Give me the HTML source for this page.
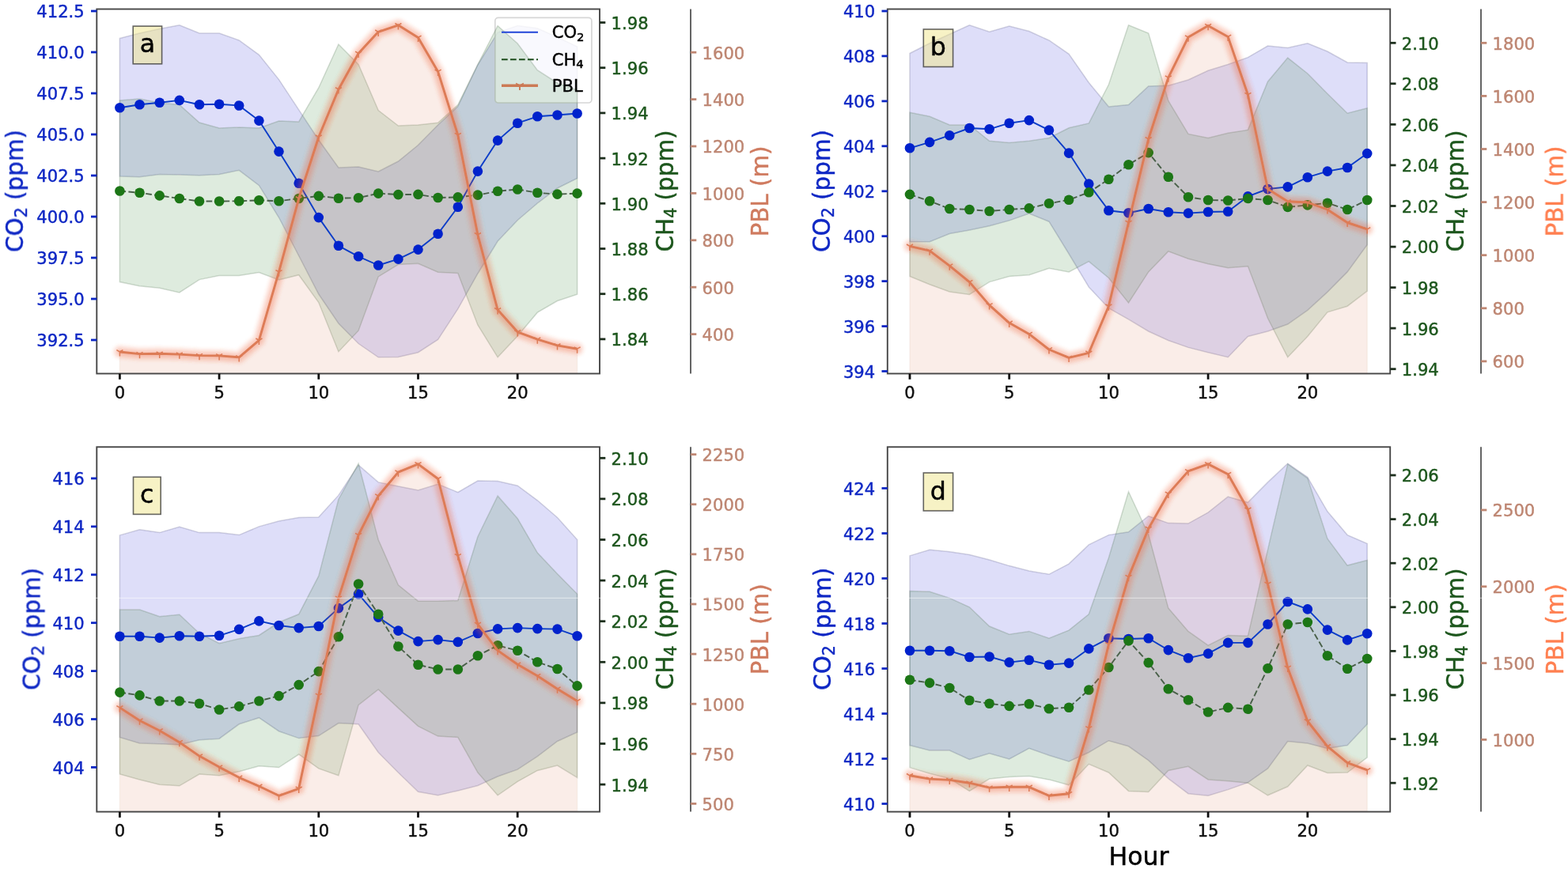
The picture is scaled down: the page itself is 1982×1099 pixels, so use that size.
<!DOCTYPE html>
<html lang="en"><head><meta charset="utf-8"><title>Diurnal CO2, CH4 and PBL</title>
<style>html,body{margin:0;padding:0;background:#fff;overflow:hidden;}svg{display:block;}text{font-family:"DejaVu Sans", "Liberation Sans", sans-serif;}</style></head><body>
<svg width="1982" height="1099" viewBox="0 0 1982 1099">
<defs><filter id="glow" filterUnits="userSpaceOnUse" x="0" y="0" width="1982" height="1099"><feGaussianBlur stdDeviation="1.6"/></filter><filter id="soft" x="-5%" y="-5%" width="110%" height="110%"><feGaussianBlur stdDeviation="0.6"/></filter></defs>
<rect width="1982" height="1099" fill="#fff"/>
<g filter="url(#soft)">
<g id="panel-a">
<clipPath id="clip_a"><rect x="122.3" y="11.5" width="635.7" height="461"/></clipPath>
<g clip-path="url(#clip_a)">
<polygon points="151.4,48.4 176.5,42 201.7,36.4 226.8,31.8 252,42 277.1,42 302.2,51 327.4,69.3 352.5,100.6 377.7,138.9 402.8,177 427.9,212 453.1,211 478.2,217 503.4,204 528.5,183.5 553.6,158 578.8,134.5 603.9,82 629.1,41 654.2,32.6 679.3,35.7 704.5,47 729.6,59 729.6,225.5 704.5,238 679.3,257 654.2,278.5 629.1,305 603.9,346 578.8,390.7 553.6,429.4 528.5,445.7 503.4,451.4 478.2,451.8 453.1,434.5 427.9,409 402.8,372 377.7,323.5 352.5,275 327.4,234.4 302.2,215.3 277.1,220.4 252,221.7 226.8,221 201.7,220.4 176.5,223.7 151.4,222.9" fill="#0000cd" fill-opacity="0.128" stroke="#333366" stroke-opacity="0.2" stroke-width="1.5"/>
<rect x="625.8" y="22.4" width="122.1" height="107.6" rx="4" ry="4" fill="#fff" fill-opacity="0.8" stroke="#ccc" stroke-opacity="0.8" stroke-width="1.7"/>
<polygon points="151.4,127 176.5,125 201.7,130 226.8,132.5 252,155 277.1,162 302.2,161 327.4,162 352.5,153 377.7,154 402.8,111 427.9,56 453.1,81.5 478.2,139.6 503.4,159 528.5,158 553.6,155.3 578.8,132.5 603.9,81.5 629.1,32.6 654.2,55 679.3,88.7 704.5,105 729.6,114 729.6,372.3 704.5,380.5 679.3,395.2 654.2,425 629.1,451.8 603.9,411 578.8,345.4 553.6,344.2 528.5,333.2 503.4,334.6 478.2,349.9 453.1,418.2 427.9,444.7 402.8,382.5 377.7,347.7 352.5,354 327.4,344.6 302.2,348.5 277.1,348.5 252,353.6 226.8,369.9 201.7,364.3 176.5,361.7 151.4,356.6" fill="#006400" fill-opacity="0.128" stroke="#335533" stroke-opacity="0.2" stroke-width="1.5"/>
<polygon points="151.4,445 176.5,447.6 201.7,447.3 226.8,448.1 252,449.6 277.1,449.9 302.2,451.9 327.4,430.3 352.5,343.9 377.7,251 402.8,173.2 427.9,113 453.1,67.5 478.2,40.3 503.4,31.8 528.5,47.5 553.6,90.4 578.8,170.7 603.9,296.8 629.1,391.8 654.2,419.8 679.3,429.2 704.5,436.9 729.6,441.2 729.6,477.5 151.4,477.5" fill="#dd7b56" fill-opacity="0.135" stroke="#884422" stroke-opacity="0.06" stroke-width="1.4"/>
</g>
<polyline points="151.4,136.3 176.5,132.2 201.7,129.7 226.8,126.9 252,132.2 277.1,131.7 302.2,133.5 327.4,152.6 352.5,191.6 377.7,231.8 402.8,275.1 427.9,310.8 453.1,324.3 478.2,335.5 503.4,327.6 528.5,315.6 553.6,295.7 578.8,261.7 603.9,216.6 629.1,177.6 654.2,155.7 679.3,147.3 704.5,145.5 729.6,143.5" fill="none" stroke="#0a3cc8" stroke-width="1.9" stroke-linejoin="round"/>
<g fill="#0320cc"><circle cx="151.4" cy="136.3" r="6.3"/><circle cx="176.5" cy="132.2" r="6.3"/><circle cx="201.7" cy="129.7" r="6.3"/><circle cx="226.8" cy="126.9" r="6.3"/><circle cx="252" cy="132.2" r="6.3"/><circle cx="277.1" cy="131.7" r="6.3"/><circle cx="302.2" cy="133.5" r="6.3"/><circle cx="327.4" cy="152.6" r="6.3"/><circle cx="352.5" cy="191.6" r="6.3"/><circle cx="377.7" cy="231.8" r="6.3"/><circle cx="402.8" cy="275.1" r="6.3"/><circle cx="427.9" cy="310.8" r="6.3"/><circle cx="453.1" cy="324.3" r="6.3"/><circle cx="478.2" cy="335.5" r="6.3"/><circle cx="503.4" cy="327.6" r="6.3"/><circle cx="528.5" cy="315.6" r="6.3"/><circle cx="553.6" cy="295.7" r="6.3"/><circle cx="578.8" cy="261.7" r="6.3"/><circle cx="603.9" cy="216.6" r="6.3"/><circle cx="629.1" cy="177.6" r="6.3"/><circle cx="654.2" cy="155.7" r="6.3"/><circle cx="679.3" cy="147.3" r="6.3"/><circle cx="704.5" cy="145.5" r="6.3"/><circle cx="729.6" cy="143.5" r="6.3"/></g>
<polyline points="151.4,241.5 176.5,243.8 201.7,247.4 226.8,251 252,254.5 277.1,254.5 302.2,254.3 327.4,253.3 352.5,254.3 377.7,251 402.8,247.9 427.9,250.7 453.1,250.2 478.2,244.6 503.4,246.1 528.5,245.9 553.6,250 578.8,249.4 603.9,246.6 629.1,241.8 654.2,239.5 679.3,243.8 704.5,245.6 729.6,244.6" fill="none" stroke="#4a614a" stroke-width="1.9" stroke-dasharray="7.7 3.3"/>
<g fill="#1c7614"><circle cx="151.4" cy="241.5" r="6.3"/><circle cx="176.5" cy="243.8" r="6.3"/><circle cx="201.7" cy="247.4" r="6.3"/><circle cx="226.8" cy="251" r="6.3"/><circle cx="252" cy="254.5" r="6.3"/><circle cx="277.1" cy="254.5" r="6.3"/><circle cx="302.2" cy="254.3" r="6.3"/><circle cx="327.4" cy="253.3" r="6.3"/><circle cx="352.5" cy="254.3" r="6.3"/><circle cx="377.7" cy="251" r="6.3"/><circle cx="402.8" cy="247.9" r="6.3"/><circle cx="427.9" cy="250.7" r="6.3"/><circle cx="453.1" cy="250.2" r="6.3"/><circle cx="478.2" cy="244.6" r="6.3"/><circle cx="503.4" cy="246.1" r="6.3"/><circle cx="528.5" cy="245.9" r="6.3"/><circle cx="553.6" cy="250" r="6.3"/><circle cx="578.8" cy="249.4" r="6.3"/><circle cx="603.9" cy="246.6" r="6.3"/><circle cx="629.1" cy="241.8" r="6.3"/><circle cx="654.2" cy="239.5" r="6.3"/><circle cx="679.3" cy="243.8" r="6.3"/><circle cx="704.5" cy="245.6" r="6.3"/><circle cx="729.6" cy="244.6" r="6.3"/></g>
<g fill="none" stroke="#f4683c" stroke-linejoin="round" stroke-linecap="round" filter="url(#glow)"><polyline points="151.4,445 176.5,447.6 201.7,447.3 226.8,448.1 252,449.6 277.1,449.9 302.2,451.9 327.4,430.3 352.5,343.9 377.7,251 402.8,173.2 427.9,113 453.1,67.5 478.2,40.3 503.4,31.8 528.5,47.5 553.6,90.4 578.8,170.7 603.9,296.8 629.1,391.8 654.2,419.8 679.3,429.2 704.5,436.9 729.6,441.2" stroke-width="5" stroke-opacity="0.1"/><polyline points="151.4,445 176.5,447.6 201.7,447.3 226.8,448.1 252,449.6 277.1,449.9 302.2,451.9 327.4,430.3 352.5,343.9 377.7,251 402.8,173.2 427.9,113 453.1,67.5 478.2,40.3 503.4,31.8 528.5,47.5 553.6,90.4 578.8,170.7 603.9,296.8 629.1,391.8 654.2,419.8 679.3,429.2 704.5,436.9 729.6,441.2" stroke-width="8" stroke-opacity="0.09"/><polyline points="151.4,445 176.5,447.6 201.7,447.3 226.8,448.1 252,449.6 277.1,449.9 302.2,451.9 327.4,430.3 352.5,343.9 377.7,251 402.8,173.2 427.9,113 453.1,67.5 478.2,40.3 503.4,31.8 528.5,47.5 553.6,90.4 578.8,170.7 603.9,296.8 629.1,391.8 654.2,419.8 679.3,429.2 704.5,436.9 729.6,441.2" stroke-width="11" stroke-opacity="0.08"/><polyline points="151.4,445 176.5,447.6 201.7,447.3 226.8,448.1 252,449.6 277.1,449.9 302.2,451.9 327.4,430.3 352.5,343.9 377.7,251 402.8,173.2 427.9,113 453.1,67.5 478.2,40.3 503.4,31.8 528.5,47.5 553.6,90.4 578.8,170.7 603.9,296.8 629.1,391.8 654.2,419.8 679.3,429.2 704.5,436.9 729.6,441.2" stroke-width="14" stroke-opacity="0.07"/><polyline points="151.4,445 176.5,447.6 201.7,447.3 226.8,448.1 252,449.6 277.1,449.9 302.2,451.9 327.4,430.3 352.5,343.9 377.7,251 402.8,173.2 427.9,113 453.1,67.5 478.2,40.3 503.4,31.8 528.5,47.5 553.6,90.4 578.8,170.7 603.9,296.8 629.1,391.8 654.2,419.8 679.3,429.2 704.5,436.9 729.6,441.2" stroke-width="17" stroke-opacity="0.06"/><polyline points="151.4,445 176.5,447.6 201.7,447.3 226.8,448.1 252,449.6 277.1,449.9 302.2,451.9 327.4,430.3 352.5,343.9 377.7,251 402.8,173.2 427.9,113 453.1,67.5 478.2,40.3 503.4,31.8 528.5,47.5 553.6,90.4 578.8,170.7 603.9,296.8 629.1,391.8 654.2,419.8 679.3,429.2 704.5,436.9 729.6,441.2" stroke-width="20" stroke-opacity="0.05"/></g>
<polyline points="151.4,445 176.5,447.6 201.7,447.3 226.8,448.1 252,449.6 277.1,449.9 302.2,451.9 327.4,430.3 352.5,343.9 377.7,251 402.8,173.2 427.9,113 453.1,67.5 478.2,40.3 503.4,31.8 528.5,47.5 553.6,90.4 578.8,170.7 603.9,296.8 629.1,391.8 654.2,419.8 679.3,429.2 704.5,436.9 729.6,441.2" fill="none" stroke="#dd7b56" stroke-width="2.9" stroke-linejoin="round"/>
<path d="M151.4 445v5.6M151.4 445l-4 -2.3M151.4 445l4 -2.3M176.5 447.6v5.6M176.5 447.6l-4 -2.3M176.5 447.6l4 -2.3M201.7 447.3v5.6M201.7 447.3l-4 -2.3M201.7 447.3l4 -2.3M226.8 448.1v5.6M226.8 448.1l-4 -2.3M226.8 448.1l4 -2.3M252 449.6v5.6M252 449.6l-4 -2.3M252 449.6l4 -2.3M277.1 449.9v5.6M277.1 449.9l-4 -2.3M277.1 449.9l4 -2.3M302.2 451.9v5.6M302.2 451.9l-4 -2.3M302.2 451.9l4 -2.3M327.4 430.3v5.6M327.4 430.3l-4 -2.3M327.4 430.3l4 -2.3M352.5 343.9v5.6M352.5 343.9l-4 -2.3M352.5 343.9l4 -2.3M377.7 251v5.6M377.7 251l-4 -2.3M377.7 251l4 -2.3M402.8 173.2v5.6M402.8 173.2l-4 -2.3M402.8 173.2l4 -2.3M427.9 113v5.6M427.9 113l-4 -2.3M427.9 113l4 -2.3M453.1 67.5v5.6M453.1 67.5l-4 -2.3M453.1 67.5l4 -2.3M478.2 40.3v5.6M478.2 40.3l-4 -2.3M478.2 40.3l4 -2.3M503.4 31.8v5.6M503.4 31.8l-4 -2.3M503.4 31.8l4 -2.3M528.5 47.5v5.6M528.5 47.5l-4 -2.3M528.5 47.5l4 -2.3M553.6 90.4v5.6M553.6 90.4l-4 -2.3M553.6 90.4l4 -2.3M578.8 170.7v5.6M578.8 170.7l-4 -2.3M578.8 170.7l4 -2.3M603.9 296.8v5.6M603.9 296.8l-4 -2.3M603.9 296.8l4 -2.3M629.1 391.8v5.6M629.1 391.8l-4 -2.3M629.1 391.8l4 -2.3M654.2 419.8v5.6M654.2 419.8l-4 -2.3M654.2 419.8l4 -2.3M679.3 429.2v5.6M679.3 429.2l-4 -2.3M679.3 429.2l4 -2.3M704.5 436.9v5.6M704.5 436.9l-4 -2.3M704.5 436.9l4 -2.3M729.6 441.2v5.6M729.6 441.2l-4 -2.3M729.6 441.2l4 -2.3" fill="none" stroke="#dd7b56" stroke-width="1.5"/>
<rect x="122.3" y="11.5" width="635.7" height="461" fill="none" stroke="#464646" stroke-width="1.9"/>
<line x1="873" y1="11.5" x2="873" y2="472.5" stroke="#5c5c5c" stroke-width="1.9"/>
<line x1="151.4" y1="472.5" x2="151.4" y2="479.8" stroke="#111" stroke-width="2.8"/><text x="151.4" y="504.1" text-anchor="middle" font-size="21.1" fill="#111" stroke="#111" stroke-width="0.45" stroke-linejoin="round">0</text><line x1="277.1" y1="472.5" x2="277.1" y2="479.8" stroke="#111" stroke-width="2.8"/><text x="277.1" y="504.1" text-anchor="middle" font-size="21.1" fill="#111" stroke="#111" stroke-width="0.45" stroke-linejoin="round">5</text><line x1="402.8" y1="472.5" x2="402.8" y2="479.8" stroke="#111" stroke-width="2.8"/><text x="402.8" y="504.1" text-anchor="middle" font-size="21.1" fill="#111" stroke="#111" stroke-width="0.45" stroke-linejoin="round">10</text><line x1="528.5" y1="472.5" x2="528.5" y2="479.8" stroke="#111" stroke-width="2.8"/><text x="528.5" y="504.1" text-anchor="middle" font-size="21.1" fill="#111" stroke="#111" stroke-width="0.45" stroke-linejoin="round">15</text><line x1="654.2" y1="472.5" x2="654.2" y2="479.8" stroke="#111" stroke-width="2.8"/><text x="654.2" y="504.1" text-anchor="middle" font-size="21.1" fill="#111" stroke="#111" stroke-width="0.45" stroke-linejoin="round">20</text>
<line x1="115" y1="14" x2="122.3" y2="14" stroke="#1028c4" stroke-width="2.8"/><text x="106.7" y="22.4" text-anchor="end" font-size="21.1" fill="#1028c4" stroke="#1028c4" stroke-width="0.45" stroke-linejoin="round">412.5</text><line x1="115" y1="66" x2="122.3" y2="66" stroke="#1028c4" stroke-width="2.8"/><text x="106.7" y="74.4" text-anchor="end" font-size="21.1" fill="#1028c4" stroke="#1028c4" stroke-width="0.45" stroke-linejoin="round">410.0</text><line x1="115" y1="118" x2="122.3" y2="118" stroke="#1028c4" stroke-width="2.8"/><text x="106.7" y="126.4" text-anchor="end" font-size="21.1" fill="#1028c4" stroke="#1028c4" stroke-width="0.45" stroke-linejoin="round">407.5</text><line x1="115" y1="170" x2="122.3" y2="170" stroke="#1028c4" stroke-width="2.8"/><text x="106.7" y="178.4" text-anchor="end" font-size="21.1" fill="#1028c4" stroke="#1028c4" stroke-width="0.45" stroke-linejoin="round">405.0</text><line x1="115" y1="222" x2="122.3" y2="222" stroke="#1028c4" stroke-width="2.8"/><text x="106.7" y="230.4" text-anchor="end" font-size="21.1" fill="#1028c4" stroke="#1028c4" stroke-width="0.45" stroke-linejoin="round">402.5</text><line x1="115" y1="274" x2="122.3" y2="274" stroke="#1028c4" stroke-width="2.8"/><text x="106.7" y="282.4" text-anchor="end" font-size="21.1" fill="#1028c4" stroke="#1028c4" stroke-width="0.45" stroke-linejoin="round">400.0</text><line x1="115" y1="326" x2="122.3" y2="326" stroke="#1028c4" stroke-width="2.8"/><text x="106.7" y="334.4" text-anchor="end" font-size="21.1" fill="#1028c4" stroke="#1028c4" stroke-width="0.45" stroke-linejoin="round">397.5</text><line x1="115" y1="378" x2="122.3" y2="378" stroke="#1028c4" stroke-width="2.8"/><text x="106.7" y="386.4" text-anchor="end" font-size="21.1" fill="#1028c4" stroke="#1028c4" stroke-width="0.45" stroke-linejoin="round">395.0</text><line x1="115" y1="430" x2="122.3" y2="430" stroke="#1028c4" stroke-width="2.8"/><text x="106.7" y="438.4" text-anchor="end" font-size="21.1" fill="#1028c4" stroke="#1028c4" stroke-width="0.45" stroke-linejoin="round">392.5</text>
<line x1="758" y1="28.5" x2="765.3" y2="28.5" stroke="#1f2f1f" stroke-width="2.8"/><text x="772.6" y="36.9" text-anchor="start" font-size="21.1" fill="#1c561c" stroke="#1c561c" stroke-width="0.45" stroke-linejoin="round">1.98</text><line x1="758" y1="85.7" x2="765.3" y2="85.7" stroke="#1f2f1f" stroke-width="2.8"/><text x="772.6" y="94.1" text-anchor="start" font-size="21.1" fill="#1c561c" stroke="#1c561c" stroke-width="0.45" stroke-linejoin="round">1.96</text><line x1="758" y1="142.9" x2="765.3" y2="142.9" stroke="#1f2f1f" stroke-width="2.8"/><text x="772.6" y="151.3" text-anchor="start" font-size="21.1" fill="#1c561c" stroke="#1c561c" stroke-width="0.45" stroke-linejoin="round">1.94</text><line x1="758" y1="200.1" x2="765.3" y2="200.1" stroke="#1f2f1f" stroke-width="2.8"/><text x="772.6" y="208.5" text-anchor="start" font-size="21.1" fill="#1c561c" stroke="#1c561c" stroke-width="0.45" stroke-linejoin="round">1.92</text><line x1="758" y1="257.3" x2="765.3" y2="257.3" stroke="#1f2f1f" stroke-width="2.8"/><text x="772.6" y="265.7" text-anchor="start" font-size="21.1" fill="#1c561c" stroke="#1c561c" stroke-width="0.45" stroke-linejoin="round">1.90</text><line x1="758" y1="314.5" x2="765.3" y2="314.5" stroke="#1f2f1f" stroke-width="2.8"/><text x="772.6" y="322.9" text-anchor="start" font-size="21.1" fill="#1c561c" stroke="#1c561c" stroke-width="0.45" stroke-linejoin="round">1.88</text><line x1="758" y1="371.7" x2="765.3" y2="371.7" stroke="#1f2f1f" stroke-width="2.8"/><text x="772.6" y="380.1" text-anchor="start" font-size="21.1" fill="#1c561c" stroke="#1c561c" stroke-width="0.45" stroke-linejoin="round">1.86</text><line x1="758" y1="428.9" x2="765.3" y2="428.9" stroke="#1f2f1f" stroke-width="2.8"/><text x="772.6" y="437.3" text-anchor="start" font-size="21.1" fill="#1c561c" stroke="#1c561c" stroke-width="0.45" stroke-linejoin="round">1.84</text>
<line x1="873" y1="66.2" x2="880.3" y2="66.2" stroke="#be8672" stroke-width="2.8"/><text x="887.6" y="74.6" text-anchor="start" font-size="21.1" fill="#be8672" stroke="#be8672" stroke-width="0.45" stroke-linejoin="round">1600</text><line x1="873" y1="125.6" x2="880.3" y2="125.6" stroke="#be8672" stroke-width="2.8"/><text x="887.6" y="134" text-anchor="start" font-size="21.1" fill="#be8672" stroke="#be8672" stroke-width="0.45" stroke-linejoin="round">1400</text><line x1="873" y1="185" x2="880.3" y2="185" stroke="#be8672" stroke-width="2.8"/><text x="887.6" y="193.4" text-anchor="start" font-size="21.1" fill="#be8672" stroke="#be8672" stroke-width="0.45" stroke-linejoin="round">1200</text><line x1="873" y1="244.4" x2="880.3" y2="244.4" stroke="#be8672" stroke-width="2.8"/><text x="887.6" y="252.8" text-anchor="start" font-size="21.1" fill="#be8672" stroke="#be8672" stroke-width="0.45" stroke-linejoin="round">1000</text><line x1="873" y1="303.8" x2="880.3" y2="303.8" stroke="#be8672" stroke-width="2.8"/><text x="887.6" y="312.2" text-anchor="start" font-size="21.1" fill="#be8672" stroke="#be8672" stroke-width="0.45" stroke-linejoin="round">800</text><line x1="873" y1="363.2" x2="880.3" y2="363.2" stroke="#be8672" stroke-width="2.8"/><text x="887.6" y="371.6" text-anchor="start" font-size="21.1" fill="#be8672" stroke="#be8672" stroke-width="0.45" stroke-linejoin="round">600</text><line x1="873" y1="422.6" x2="880.3" y2="422.6" stroke="#be8672" stroke-width="2.8"/><text x="887.6" y="431" text-anchor="start" font-size="21.1" fill="#be8672" stroke="#be8672" stroke-width="0.45" stroke-linejoin="round">400</text>
<text transform="translate(29,241.5) rotate(-90)" text-anchor="middle" font-size="29.4" fill="#1028c4" stroke="#1028c4" stroke-width="0.45" stroke-linejoin="round">CO<tspan font-size="20.6" dy="4.6">2</tspan><tspan dy="-4.6"> (ppm)</tspan></text>
<text transform="translate(850.8,241.5) rotate(-90)" text-anchor="middle" font-size="29.4" fill="#1c561c" stroke="#1c561c" stroke-width="0.45" stroke-linejoin="round">CH<tspan font-size="20.6" dy="4.6">4</tspan><tspan dy="-4.6"> (ppm)</tspan></text>
<text transform="translate(971,242) rotate(-90)" text-anchor="middle" font-size="29.4" fill="#cf7a5e" stroke="#cf7a5e" stroke-width="0.45" stroke-linejoin="round">PBL (m)</text>
<rect x="168.2" y="33.1" width="36.4" height="47.7" fill="#f0e68c" fill-opacity="0.5" stroke="#333" stroke-opacity="0.75" stroke-width="1.6"/>
<text x="186.4" y="66.3" text-anchor="middle" font-size="31.6" fill="#000" stroke="#000" stroke-width="0.45" stroke-linejoin="round">a</text>
<line x1="634" y1="40.8" x2="680" y2="40.8" stroke="#2044d8" stroke-width="1.9"/>
<line x1="634" y1="75.2" x2="680" y2="75.2" stroke="#1f4d1f" stroke-width="1.9" stroke-dasharray="7.7 3.3"/>
<line x1="634" y1="108.3" x2="680" y2="108.3" stroke="#cc7a55" stroke-width="3.4"/>
<path d="M657 108.3v5.6M657 108.3l-4.9 -2.8M657 108.3l4.9 -2.8" fill="none" stroke="#cc7a55" stroke-width="1.9"/>
<text x="697.7" y="48.3" font-size="21.1" fill="#000" stroke="#000" stroke-width="0.45" stroke-linejoin="round">CO<tspan font-size="14.8" dy="3.4">2</tspan></text>
<text x="697.7" y="82.7" font-size="21.1" fill="#000" stroke="#000" stroke-width="0.45" stroke-linejoin="round">CH<tspan font-size="14.8" dy="3.4">4</tspan></text>
<text x="697.7" y="115.8" font-size="21.1" fill="#000" stroke="#000" stroke-width="0.45" stroke-linejoin="round">PBL</text>
</g>
<g id="panel-b">
<clipPath id="clip_b"><rect x="1121.8" y="11.5" width="635.4" height="461"/></clipPath>
<g clip-path="url(#clip_b)">
<polygon points="1150,67.5 1175.1,54.8 1200.3,43.3 1225.4,31.8 1250.6,40.3 1275.7,33.1 1300.8,39.5 1326,51 1351.1,68.3 1376.3,104.5 1401.4,135 1426.5,132.5 1451.7,109 1476.8,108.3 1502,101 1527.1,89.2 1552.2,81.5 1577.4,72.6 1602.5,58 1627.7,60.4 1652.8,54.8 1677.9,65 1703.1,79 1728.2,79.5 1728.2,309.5 1703.1,343.9 1677.9,369.4 1652.8,392.3 1627.7,410 1602.5,419 1577.4,425.4 1552.2,451.7 1527.1,445.8 1502,439.4 1476.8,430.5 1451.7,419 1426.5,403.8 1401.4,389.7 1376.3,363 1351.1,321 1326,280.2 1300.8,270 1275.7,278.9 1250.6,285.8 1225.4,290.9 1200.3,295.5 1175.1,305.7 1150,305.7" fill="#0000cd" fill-opacity="0.128" stroke="#333366" stroke-opacity="0.2" stroke-width="1.5"/>
<polygon points="1150,142.2 1175.1,147.3 1200.3,158 1225.4,158 1250.6,178.3 1275.7,180.4 1300.8,178.3 1326,174.5 1351.1,161.8 1376.3,155.9 1401.4,107 1426.5,31.8 1451.7,42 1476.8,127.4 1502,169.4 1527.1,174.5 1552.2,168.2 1577.4,164.3 1602.5,103.2 1627.7,73.1 1652.8,93 1677.9,118.5 1703.1,143.2 1728.2,136.8 1728.2,368.1 1703.1,387.2 1677.9,394.8 1652.8,425.4 1627.7,451.7 1602.5,402.5 1577.4,336.8 1552.2,338.8 1527.1,333.7 1502,327.3 1476.8,317.9 1451.7,343.9 1426.5,382.9 1401.4,351.5 1376.3,330.6 1351.1,343.9 1326,339.3 1300.8,347.7 1275.7,349.5 1250.6,356.6 1225.4,372.4 1200.3,368.9 1175.1,359.7 1150,349.5" fill="#006400" fill-opacity="0.128" stroke="#335533" stroke-opacity="0.2" stroke-width="1.5"/>
<polygon points="1150,311.3 1175.1,317.1 1200.3,336.2 1225.4,356.6 1250.6,385.9 1275.7,408.3 1300.8,422.4 1326,442 1351.1,452.4 1376.3,446.3 1401.4,387.2 1426.5,281.5 1451.7,175.8 1476.8,98.1 1502,47.1 1527.1,32.6 1552.2,46.4 1577.4,119.7 1602.5,239 1627.7,254.8 1652.8,256 1677.9,265 1703.1,281.5 1728.2,289.9 1728.2,477.5 1150,477.5" fill="#dd7b56" fill-opacity="0.135" stroke="#884422" stroke-opacity="0.06" stroke-width="1.4"/>
</g>
<polyline points="1150,187.3 1175.1,179.9 1200.3,171.2 1225.4,162 1250.6,163.3 1275.7,155.7 1300.8,152.1 1326,164.6 1351.1,193.6 1376.3,232.6 1401.4,266.2 1426.5,269.3 1451.7,264 1476.8,268.3 1502,269.6 1527.1,268 1552.2,267.5 1577.4,248.4 1602.5,239 1627.7,236.4 1652.8,224.2 1677.9,216.6 1703.1,212 1728.2,194.1" fill="none" stroke="#0a3cc8" stroke-width="1.9" stroke-linejoin="round"/>
<g fill="#0320cc"><circle cx="1150" cy="187.3" r="6.3"/><circle cx="1175.1" cy="179.9" r="6.3"/><circle cx="1200.3" cy="171.2" r="6.3"/><circle cx="1225.4" cy="162" r="6.3"/><circle cx="1250.6" cy="163.3" r="6.3"/><circle cx="1275.7" cy="155.7" r="6.3"/><circle cx="1300.8" cy="152.1" r="6.3"/><circle cx="1326" cy="164.6" r="6.3"/><circle cx="1351.1" cy="193.6" r="6.3"/><circle cx="1376.3" cy="232.6" r="6.3"/><circle cx="1401.4" cy="266.2" r="6.3"/><circle cx="1426.5" cy="269.3" r="6.3"/><circle cx="1451.7" cy="264" r="6.3"/><circle cx="1476.8" cy="268.3" r="6.3"/><circle cx="1502" cy="269.6" r="6.3"/><circle cx="1527.1" cy="268" r="6.3"/><circle cx="1552.2" cy="267.5" r="6.3"/><circle cx="1577.4" cy="248.4" r="6.3"/><circle cx="1602.5" cy="239" r="6.3"/><circle cx="1627.7" cy="236.4" r="6.3"/><circle cx="1652.8" cy="224.2" r="6.3"/><circle cx="1677.9" cy="216.6" r="6.3"/><circle cx="1703.1" cy="212" r="6.3"/><circle cx="1728.2" cy="194.1" r="6.3"/></g>
<polyline points="1150,245.9 1175.1,254.3 1200.3,264 1225.4,265 1250.6,267 1275.7,265 1300.8,263.4 1326,257.3 1351.1,252.7 1376.3,243.3 1401.4,226.8 1426.5,208.2 1451.7,193.1 1476.8,223.7 1502,249.2 1527.1,253 1552.2,253.5 1577.4,251 1602.5,253 1627.7,261.9 1652.8,259.4 1677.9,256.8 1703.1,265 1728.2,253" fill="none" stroke="#4a614a" stroke-width="1.9" stroke-dasharray="7.7 3.3"/>
<g fill="#1c7614"><circle cx="1150" cy="245.9" r="6.3"/><circle cx="1175.1" cy="254.3" r="6.3"/><circle cx="1200.3" cy="264" r="6.3"/><circle cx="1225.4" cy="265" r="6.3"/><circle cx="1250.6" cy="267" r="6.3"/><circle cx="1275.7" cy="265" r="6.3"/><circle cx="1300.8" cy="263.4" r="6.3"/><circle cx="1326" cy="257.3" r="6.3"/><circle cx="1351.1" cy="252.7" r="6.3"/><circle cx="1376.3" cy="243.3" r="6.3"/><circle cx="1401.4" cy="226.8" r="6.3"/><circle cx="1426.5" cy="208.2" r="6.3"/><circle cx="1451.7" cy="193.1" r="6.3"/><circle cx="1476.8" cy="223.7" r="6.3"/><circle cx="1502" cy="249.2" r="6.3"/><circle cx="1527.1" cy="253" r="6.3"/><circle cx="1552.2" cy="253.5" r="6.3"/><circle cx="1577.4" cy="251" r="6.3"/><circle cx="1602.5" cy="253" r="6.3"/><circle cx="1627.7" cy="261.9" r="6.3"/><circle cx="1652.8" cy="259.4" r="6.3"/><circle cx="1677.9" cy="256.8" r="6.3"/><circle cx="1703.1" cy="265" r="6.3"/><circle cx="1728.2" cy="253" r="6.3"/></g>
<g fill="none" stroke="#f4683c" stroke-linejoin="round" stroke-linecap="round" filter="url(#glow)"><polyline points="1150,311.3 1175.1,317.1 1200.3,336.2 1225.4,356.6 1250.6,385.9 1275.7,408.3 1300.8,422.4 1326,442 1351.1,452.4 1376.3,446.3 1401.4,387.2 1426.5,281.5 1451.7,175.8 1476.8,98.1 1502,47.1 1527.1,32.6 1552.2,46.4 1577.4,119.7 1602.5,239 1627.7,254.8 1652.8,256 1677.9,265 1703.1,281.5 1728.2,289.9" stroke-width="5" stroke-opacity="0.1"/><polyline points="1150,311.3 1175.1,317.1 1200.3,336.2 1225.4,356.6 1250.6,385.9 1275.7,408.3 1300.8,422.4 1326,442 1351.1,452.4 1376.3,446.3 1401.4,387.2 1426.5,281.5 1451.7,175.8 1476.8,98.1 1502,47.1 1527.1,32.6 1552.2,46.4 1577.4,119.7 1602.5,239 1627.7,254.8 1652.8,256 1677.9,265 1703.1,281.5 1728.2,289.9" stroke-width="8" stroke-opacity="0.09"/><polyline points="1150,311.3 1175.1,317.1 1200.3,336.2 1225.4,356.6 1250.6,385.9 1275.7,408.3 1300.8,422.4 1326,442 1351.1,452.4 1376.3,446.3 1401.4,387.2 1426.5,281.5 1451.7,175.8 1476.8,98.1 1502,47.1 1527.1,32.6 1552.2,46.4 1577.4,119.7 1602.5,239 1627.7,254.8 1652.8,256 1677.9,265 1703.1,281.5 1728.2,289.9" stroke-width="11" stroke-opacity="0.08"/><polyline points="1150,311.3 1175.1,317.1 1200.3,336.2 1225.4,356.6 1250.6,385.9 1275.7,408.3 1300.8,422.4 1326,442 1351.1,452.4 1376.3,446.3 1401.4,387.2 1426.5,281.5 1451.7,175.8 1476.8,98.1 1502,47.1 1527.1,32.6 1552.2,46.4 1577.4,119.7 1602.5,239 1627.7,254.8 1652.8,256 1677.9,265 1703.1,281.5 1728.2,289.9" stroke-width="14" stroke-opacity="0.07"/><polyline points="1150,311.3 1175.1,317.1 1200.3,336.2 1225.4,356.6 1250.6,385.9 1275.7,408.3 1300.8,422.4 1326,442 1351.1,452.4 1376.3,446.3 1401.4,387.2 1426.5,281.5 1451.7,175.8 1476.8,98.1 1502,47.1 1527.1,32.6 1552.2,46.4 1577.4,119.7 1602.5,239 1627.7,254.8 1652.8,256 1677.9,265 1703.1,281.5 1728.2,289.9" stroke-width="17" stroke-opacity="0.06"/><polyline points="1150,311.3 1175.1,317.1 1200.3,336.2 1225.4,356.6 1250.6,385.9 1275.7,408.3 1300.8,422.4 1326,442 1351.1,452.4 1376.3,446.3 1401.4,387.2 1426.5,281.5 1451.7,175.8 1476.8,98.1 1502,47.1 1527.1,32.6 1552.2,46.4 1577.4,119.7 1602.5,239 1627.7,254.8 1652.8,256 1677.9,265 1703.1,281.5 1728.2,289.9" stroke-width="20" stroke-opacity="0.05"/></g>
<polyline points="1150,311.3 1175.1,317.1 1200.3,336.2 1225.4,356.6 1250.6,385.9 1275.7,408.3 1300.8,422.4 1326,442 1351.1,452.4 1376.3,446.3 1401.4,387.2 1426.5,281.5 1451.7,175.8 1476.8,98.1 1502,47.1 1527.1,32.6 1552.2,46.4 1577.4,119.7 1602.5,239 1627.7,254.8 1652.8,256 1677.9,265 1703.1,281.5 1728.2,289.9" fill="none" stroke="#dd7b56" stroke-width="2.9" stroke-linejoin="round"/>
<path d="M1150 311.3v5.6M1150 311.3l-4 -2.3M1150 311.3l4 -2.3M1175.1 317.1v5.6M1175.1 317.1l-4 -2.3M1175.1 317.1l4 -2.3M1200.3 336.2v5.6M1200.3 336.2l-4 -2.3M1200.3 336.2l4 -2.3M1225.4 356.6v5.6M1225.4 356.6l-4 -2.3M1225.4 356.6l4 -2.3M1250.6 385.9v5.6M1250.6 385.9l-4 -2.3M1250.6 385.9l4 -2.3M1275.7 408.3v5.6M1275.7 408.3l-4 -2.3M1275.7 408.3l4 -2.3M1300.8 422.4v5.6M1300.8 422.4l-4 -2.3M1300.8 422.4l4 -2.3M1326 442v5.6M1326 442l-4 -2.3M1326 442l4 -2.3M1351.1 452.4v5.6M1351.1 452.4l-4 -2.3M1351.1 452.4l4 -2.3M1376.3 446.3v5.6M1376.3 446.3l-4 -2.3M1376.3 446.3l4 -2.3M1401.4 387.2v5.6M1401.4 387.2l-4 -2.3M1401.4 387.2l4 -2.3M1426.5 281.5v5.6M1426.5 281.5l-4 -2.3M1426.5 281.5l4 -2.3M1451.7 175.8v5.6M1451.7 175.8l-4 -2.3M1451.7 175.8l4 -2.3M1476.8 98.1v5.6M1476.8 98.1l-4 -2.3M1476.8 98.1l4 -2.3M1502 47.1v5.6M1502 47.1l-4 -2.3M1502 47.1l4 -2.3M1527.1 32.6v5.6M1527.1 32.6l-4 -2.3M1527.1 32.6l4 -2.3M1552.2 46.4v5.6M1552.2 46.4l-4 -2.3M1552.2 46.4l4 -2.3M1577.4 119.7v5.6M1577.4 119.7l-4 -2.3M1577.4 119.7l4 -2.3M1602.5 239v5.6M1602.5 239l-4 -2.3M1602.5 239l4 -2.3M1627.7 254.8v5.6M1627.7 254.8l-4 -2.3M1627.7 254.8l4 -2.3M1652.8 256v5.6M1652.8 256l-4 -2.3M1652.8 256l4 -2.3M1677.9 265v5.6M1677.9 265l-4 -2.3M1677.9 265l4 -2.3M1703.1 281.5v5.6M1703.1 281.5l-4 -2.3M1703.1 281.5l4 -2.3M1728.2 289.9v5.6M1728.2 289.9l-4 -2.3M1728.2 289.9l4 -2.3" fill="none" stroke="#dd7b56" stroke-width="1.5"/>
<rect x="1121.8" y="11.5" width="635.4" height="461" fill="none" stroke="#464646" stroke-width="1.9"/>
<line x1="1872" y1="11.5" x2="1872" y2="472.5" stroke="#5c5c5c" stroke-width="1.9"/>
<line x1="1150" y1="472.5" x2="1150" y2="479.8" stroke="#111" stroke-width="2.8"/><text x="1150" y="504.1" text-anchor="middle" font-size="21.1" fill="#111" stroke="#111" stroke-width="0.45" stroke-linejoin="round">0</text><line x1="1275.7" y1="472.5" x2="1275.7" y2="479.8" stroke="#111" stroke-width="2.8"/><text x="1275.7" y="504.1" text-anchor="middle" font-size="21.1" fill="#111" stroke="#111" stroke-width="0.45" stroke-linejoin="round">5</text><line x1="1401.4" y1="472.5" x2="1401.4" y2="479.8" stroke="#111" stroke-width="2.8"/><text x="1401.4" y="504.1" text-anchor="middle" font-size="21.1" fill="#111" stroke="#111" stroke-width="0.45" stroke-linejoin="round">10</text><line x1="1527.1" y1="472.5" x2="1527.1" y2="479.8" stroke="#111" stroke-width="2.8"/><text x="1527.1" y="504.1" text-anchor="middle" font-size="21.1" fill="#111" stroke="#111" stroke-width="0.45" stroke-linejoin="round">15</text><line x1="1652.8" y1="472.5" x2="1652.8" y2="479.8" stroke="#111" stroke-width="2.8"/><text x="1652.8" y="504.1" text-anchor="middle" font-size="21.1" fill="#111" stroke="#111" stroke-width="0.45" stroke-linejoin="round">20</text>
<line x1="1114.5" y1="14" x2="1121.8" y2="14" stroke="#1028c4" stroke-width="2.8"/><text x="1106.2" y="22.4" text-anchor="end" font-size="21.1" fill="#1028c4" stroke="#1028c4" stroke-width="0.45" stroke-linejoin="round">410</text><line x1="1114.5" y1="70.9" x2="1121.8" y2="70.9" stroke="#1028c4" stroke-width="2.8"/><text x="1106.2" y="79.3" text-anchor="end" font-size="21.1" fill="#1028c4" stroke="#1028c4" stroke-width="0.45" stroke-linejoin="round">408</text><line x1="1114.5" y1="127.9" x2="1121.8" y2="127.9" stroke="#1028c4" stroke-width="2.8"/><text x="1106.2" y="136.3" text-anchor="end" font-size="21.1" fill="#1028c4" stroke="#1028c4" stroke-width="0.45" stroke-linejoin="round">406</text><line x1="1114.5" y1="184.8" x2="1121.8" y2="184.8" stroke="#1028c4" stroke-width="2.8"/><text x="1106.2" y="193.2" text-anchor="end" font-size="21.1" fill="#1028c4" stroke="#1028c4" stroke-width="0.45" stroke-linejoin="round">404</text><line x1="1114.5" y1="241.8" x2="1121.8" y2="241.8" stroke="#1028c4" stroke-width="2.8"/><text x="1106.2" y="250.2" text-anchor="end" font-size="21.1" fill="#1028c4" stroke="#1028c4" stroke-width="0.45" stroke-linejoin="round">402</text><line x1="1114.5" y1="298.7" x2="1121.8" y2="298.7" stroke="#1028c4" stroke-width="2.8"/><text x="1106.2" y="307.1" text-anchor="end" font-size="21.1" fill="#1028c4" stroke="#1028c4" stroke-width="0.45" stroke-linejoin="round">400</text><line x1="1114.5" y1="355.6" x2="1121.8" y2="355.6" stroke="#1028c4" stroke-width="2.8"/><text x="1106.2" y="364" text-anchor="end" font-size="21.1" fill="#1028c4" stroke="#1028c4" stroke-width="0.45" stroke-linejoin="round">398</text><line x1="1114.5" y1="412.6" x2="1121.8" y2="412.6" stroke="#1028c4" stroke-width="2.8"/><text x="1106.2" y="421" text-anchor="end" font-size="21.1" fill="#1028c4" stroke="#1028c4" stroke-width="0.45" stroke-linejoin="round">396</text><line x1="1114.5" y1="469.5" x2="1121.8" y2="469.5" stroke="#1028c4" stroke-width="2.8"/><text x="1106.2" y="477.9" text-anchor="end" font-size="21.1" fill="#1028c4" stroke="#1028c4" stroke-width="0.45" stroke-linejoin="round">394</text>
<line x1="1757.2" y1="54.3" x2="1764.5" y2="54.3" stroke="#1f2f1f" stroke-width="2.8"/><text x="1771.8" y="62.7" text-anchor="start" font-size="21.1" fill="#1c561c" stroke="#1c561c" stroke-width="0.45" stroke-linejoin="round">2.10</text><line x1="1757.2" y1="105.8" x2="1764.5" y2="105.8" stroke="#1f2f1f" stroke-width="2.8"/><text x="1771.8" y="114.2" text-anchor="start" font-size="21.1" fill="#1c561c" stroke="#1c561c" stroke-width="0.45" stroke-linejoin="round">2.08</text><line x1="1757.2" y1="157.4" x2="1764.5" y2="157.4" stroke="#1f2f1f" stroke-width="2.8"/><text x="1771.8" y="165.8" text-anchor="start" font-size="21.1" fill="#1c561c" stroke="#1c561c" stroke-width="0.45" stroke-linejoin="round">2.06</text><line x1="1757.2" y1="208.9" x2="1764.5" y2="208.9" stroke="#1f2f1f" stroke-width="2.8"/><text x="1771.8" y="217.3" text-anchor="start" font-size="21.1" fill="#1c561c" stroke="#1c561c" stroke-width="0.45" stroke-linejoin="round">2.04</text><line x1="1757.2" y1="260.5" x2="1764.5" y2="260.5" stroke="#1f2f1f" stroke-width="2.8"/><text x="1771.8" y="268.9" text-anchor="start" font-size="21.1" fill="#1c561c" stroke="#1c561c" stroke-width="0.45" stroke-linejoin="round">2.02</text><line x1="1757.2" y1="312.1" x2="1764.5" y2="312.1" stroke="#1f2f1f" stroke-width="2.8"/><text x="1771.8" y="320.4" text-anchor="start" font-size="21.1" fill="#1c561c" stroke="#1c561c" stroke-width="0.45" stroke-linejoin="round">2.00</text><line x1="1757.2" y1="363.6" x2="1764.5" y2="363.6" stroke="#1f2f1f" stroke-width="2.8"/><text x="1771.8" y="372" text-anchor="start" font-size="21.1" fill="#1c561c" stroke="#1c561c" stroke-width="0.45" stroke-linejoin="round">1.98</text><line x1="1757.2" y1="415.1" x2="1764.5" y2="415.1" stroke="#1f2f1f" stroke-width="2.8"/><text x="1771.8" y="423.5" text-anchor="start" font-size="21.1" fill="#1c561c" stroke="#1c561c" stroke-width="0.45" stroke-linejoin="round">1.96</text><line x1="1757.2" y1="466.7" x2="1764.5" y2="466.7" stroke="#1f2f1f" stroke-width="2.8"/><text x="1771.8" y="475.1" text-anchor="start" font-size="21.1" fill="#1c561c" stroke="#1c561c" stroke-width="0.45" stroke-linejoin="round">1.94</text>
<line x1="1872" y1="54.3" x2="1879.3" y2="54.3" stroke="#be8672" stroke-width="2.8"/><text x="1886.6" y="62.7" text-anchor="start" font-size="21.1" fill="#be8672" stroke="#be8672" stroke-width="0.45" stroke-linejoin="round">1800</text><line x1="1872" y1="121.4" x2="1879.3" y2="121.4" stroke="#be8672" stroke-width="2.8"/><text x="1886.6" y="129.8" text-anchor="start" font-size="21.1" fill="#be8672" stroke="#be8672" stroke-width="0.45" stroke-linejoin="round">1600</text><line x1="1872" y1="188.5" x2="1879.3" y2="188.5" stroke="#be8672" stroke-width="2.8"/><text x="1886.6" y="196.9" text-anchor="start" font-size="21.1" fill="#be8672" stroke="#be8672" stroke-width="0.45" stroke-linejoin="round">1400</text><line x1="1872" y1="255.6" x2="1879.3" y2="255.6" stroke="#be8672" stroke-width="2.8"/><text x="1886.6" y="264" text-anchor="start" font-size="21.1" fill="#be8672" stroke="#be8672" stroke-width="0.45" stroke-linejoin="round">1200</text><line x1="1872" y1="322.7" x2="1879.3" y2="322.7" stroke="#be8672" stroke-width="2.8"/><text x="1886.6" y="331.1" text-anchor="start" font-size="21.1" fill="#be8672" stroke="#be8672" stroke-width="0.45" stroke-linejoin="round">1000</text><line x1="1872" y1="389.8" x2="1879.3" y2="389.8" stroke="#be8672" stroke-width="2.8"/><text x="1886.6" y="398.2" text-anchor="start" font-size="21.1" fill="#be8672" stroke="#be8672" stroke-width="0.45" stroke-linejoin="round">800</text><line x1="1872" y1="456.9" x2="1879.3" y2="456.9" stroke="#be8672" stroke-width="2.8"/><text x="1886.6" y="465.3" text-anchor="start" font-size="21.1" fill="#be8672" stroke="#be8672" stroke-width="0.45" stroke-linejoin="round">600</text>
<text transform="translate(1049.1,241.5) rotate(-90)" text-anchor="middle" font-size="29.4" fill="#1028c4" stroke="#1028c4" stroke-width="0.45" stroke-linejoin="round">CO<tspan font-size="20.6" dy="4.6">2</tspan><tspan dy="-4.6"> (ppm)</tspan></text>
<text transform="translate(1850.4,241.5) rotate(-90)" text-anchor="middle" font-size="29.4" fill="#1c561c" stroke="#1c561c" stroke-width="0.45" stroke-linejoin="round">CH<tspan font-size="20.6" dy="4.6">4</tspan><tspan dy="-4.6"> (ppm)</tspan></text>
<text transform="translate(1975.6,242) rotate(-90)" text-anchor="middle" font-size="29.4" fill="#ff7f50" stroke="#ff7f50" stroke-width="0.45" stroke-linejoin="round">PBL (m)</text>
<rect x="1167.3" y="37" width="37.3" height="47.5" fill="#f0e68c" fill-opacity="0.5" stroke="#333" stroke-opacity="0.75" stroke-width="1.6"/>
<text x="1185.9" y="70" text-anchor="middle" font-size="31.6" fill="#000" stroke="#000" stroke-width="0.45" stroke-linejoin="round">b</text>
</g>
<g id="panel-c">
<clipPath id="clip_c"><rect x="122.3" y="565.3" width="635.7" height="461.3"/></clipPath>
<g clip-path="url(#clip_c)">
<polygon points="151.4,676.9 176.5,669.7 201.7,673.6 226.8,666.2 252,673.6 277.1,673.6 302.2,676.6 327.4,665.9 352.5,659 377.7,654.5 402.8,654 427.9,626.4 453.1,588.2 478.2,609.9 503.4,615 528.5,620 553.6,612.4 578.8,622.6 603.9,608.1 629.1,608.6 654.2,614.2 679.3,632.8 704.5,654.5 729.6,682.5 729.6,926 704.5,937.5 679.3,956.6 654.2,973.1 629.1,982 603.9,993.5 578.8,999.9 553.6,1005.8 528.5,1001.2 503.4,977 478.2,951.5 453.1,915.8 427.9,914.5 402.8,930.6 377.7,933.6 352.5,924.7 327.4,907.7 302.2,915.8 277.1,934.2 252,935.7 226.8,941.8 201.7,940.8 176.5,940 151.4,932.4" fill="#0000cd" fill-opacity="0.128" stroke="#333366" stroke-opacity="0.2" stroke-width="1.5"/>
<polygon points="151.4,770.9 176.5,771.1 201.7,779.8 226.8,777.3 252,801 277.1,813.7 302.2,807.8 327.4,803.5 352.5,787 377.7,776.8 402.8,728.4 427.9,631.5 453.1,586.2 478.2,682.5 503.4,739.8 528.5,760.2 553.6,760.2 578.8,759.5 603.9,678.7 629.1,627.2 654.2,655.8 679.3,699.1 704.5,725.8 729.6,751.3 729.6,983.3 704.5,968 679.3,974.4 654.2,988.4 629.1,1005.8 603.9,977 578.8,932.4 553.6,931.1 528.5,918.4 503.4,895.4 478.2,872 453.1,891.6 427.9,980.8 402.8,971.9 377.7,954 352.5,970.6 327.4,968.8 302.2,975.7 277.1,980.8 252,979 226.8,993.8 201.7,992.3 176.5,985.9 151.4,979" fill="#006400" fill-opacity="0.128" stroke="#335533" stroke-opacity="0.2" stroke-width="1.5"/>
<polygon points="151.4,894.9 176.5,911.2 201.7,924 226.8,938.7 252,956.1 277.1,970.1 302.2,983.3 327.4,994.3 352.5,1006.3 377.7,997.3 402.8,879.4 427.9,756.4 453.1,676.6 478.2,627.2 503.4,597.1 528.5,586.9 553.6,605.5 578.8,702.9 603.9,789.5 629.1,822.6 654.2,840.2 679.3,854.7 704.5,871.2 729.6,886.5 729.6,1031.6 151.4,1031.6" fill="#dd7b56" fill-opacity="0.135" stroke="#884422" stroke-opacity="0.06" stroke-width="1.4"/>
</g>
<polyline points="151.4,804.8 176.5,804.8 201.7,806.6 226.8,804.3 252,804.8 277.1,803.8 302.2,795.9 327.4,785.4 352.5,791 377.7,794.1 402.8,792 427.9,769.1 453.1,751.3 478.2,780.6 503.4,797.6 528.5,811.1 553.6,809.1 578.8,811.9 603.9,801 629.1,795.4 654.2,794.1 679.3,795.1 704.5,795.6 729.6,804.3" fill="none" stroke="#0a3cc8" stroke-width="1.9" stroke-linejoin="round"/>
<g fill="#0320cc"><circle cx="151.4" cy="804.8" r="6.3"/><circle cx="176.5" cy="804.8" r="6.3"/><circle cx="201.7" cy="806.6" r="6.3"/><circle cx="226.8" cy="804.3" r="6.3"/><circle cx="252" cy="804.8" r="6.3"/><circle cx="277.1" cy="803.8" r="6.3"/><circle cx="302.2" cy="795.9" r="6.3"/><circle cx="327.4" cy="785.4" r="6.3"/><circle cx="352.5" cy="791" r="6.3"/><circle cx="377.7" cy="794.1" r="6.3"/><circle cx="402.8" cy="792" r="6.3"/><circle cx="427.9" cy="769.1" r="6.3"/><circle cx="453.1" cy="751.3" r="6.3"/><circle cx="478.2" cy="780.6" r="6.3"/><circle cx="503.4" cy="797.6" r="6.3"/><circle cx="528.5" cy="811.1" r="6.3"/><circle cx="553.6" cy="809.1" r="6.3"/><circle cx="578.8" cy="811.9" r="6.3"/><circle cx="603.9" cy="801" r="6.3"/><circle cx="629.1" cy="795.4" r="6.3"/><circle cx="654.2" cy="794.1" r="6.3"/><circle cx="679.3" cy="795.1" r="6.3"/><circle cx="704.5" cy="795.6" r="6.3"/><circle cx="729.6" cy="804.3" r="6.3"/></g>
<polyline points="151.4,875.6 176.5,879.4 201.7,886.5 226.8,886.5 252,889.8 277.1,897.5 302.2,893.4 327.4,886.5 352.5,880.1 377.7,866.1 402.8,849.1 427.9,805.3 453.1,738.5 478.2,776.8 503.4,817.5 528.5,840.7 553.6,846.5 578.8,846.5 603.9,829.2 629.1,816.2 654.2,822.8 679.3,837.3 704.5,846 729.6,867.4" fill="none" stroke="#4a614a" stroke-width="1.9" stroke-dasharray="7.7 3.3"/>
<g fill="#1c7614"><circle cx="151.4" cy="875.6" r="6.3"/><circle cx="176.5" cy="879.4" r="6.3"/><circle cx="201.7" cy="886.5" r="6.3"/><circle cx="226.8" cy="886.5" r="6.3"/><circle cx="252" cy="889.8" r="6.3"/><circle cx="277.1" cy="897.5" r="6.3"/><circle cx="302.2" cy="893.4" r="6.3"/><circle cx="327.4" cy="886.5" r="6.3"/><circle cx="352.5" cy="880.1" r="6.3"/><circle cx="377.7" cy="866.1" r="6.3"/><circle cx="402.8" cy="849.1" r="6.3"/><circle cx="427.9" cy="805.3" r="6.3"/><circle cx="453.1" cy="738.5" r="6.3"/><circle cx="478.2" cy="776.8" r="6.3"/><circle cx="503.4" cy="817.5" r="6.3"/><circle cx="528.5" cy="840.7" r="6.3"/><circle cx="553.6" cy="846.5" r="6.3"/><circle cx="578.8" cy="846.5" r="6.3"/><circle cx="603.9" cy="829.2" r="6.3"/><circle cx="629.1" cy="816.2" r="6.3"/><circle cx="654.2" cy="822.8" r="6.3"/><circle cx="679.3" cy="837.3" r="6.3"/><circle cx="704.5" cy="846" r="6.3"/><circle cx="729.6" cy="867.4" r="6.3"/></g>
<g fill="none" stroke="#f4683c" stroke-linejoin="round" stroke-linecap="round" filter="url(#glow)"><polyline points="151.4,894.9 176.5,911.2 201.7,924 226.8,938.7 252,956.1 277.1,970.1 302.2,983.3 327.4,994.3 352.5,1006.3 377.7,997.3 402.8,879.4 427.9,756.4 453.1,676.6 478.2,627.2 503.4,597.1 528.5,586.9 553.6,605.5 578.8,702.9 603.9,789.5 629.1,822.6 654.2,840.2 679.3,854.7 704.5,871.2 729.6,886.5" stroke-width="5" stroke-opacity="0.1"/><polyline points="151.4,894.9 176.5,911.2 201.7,924 226.8,938.7 252,956.1 277.1,970.1 302.2,983.3 327.4,994.3 352.5,1006.3 377.7,997.3 402.8,879.4 427.9,756.4 453.1,676.6 478.2,627.2 503.4,597.1 528.5,586.9 553.6,605.5 578.8,702.9 603.9,789.5 629.1,822.6 654.2,840.2 679.3,854.7 704.5,871.2 729.6,886.5" stroke-width="8" stroke-opacity="0.09"/><polyline points="151.4,894.9 176.5,911.2 201.7,924 226.8,938.7 252,956.1 277.1,970.1 302.2,983.3 327.4,994.3 352.5,1006.3 377.7,997.3 402.8,879.4 427.9,756.4 453.1,676.6 478.2,627.2 503.4,597.1 528.5,586.9 553.6,605.5 578.8,702.9 603.9,789.5 629.1,822.6 654.2,840.2 679.3,854.7 704.5,871.2 729.6,886.5" stroke-width="11" stroke-opacity="0.08"/><polyline points="151.4,894.9 176.5,911.2 201.7,924 226.8,938.7 252,956.1 277.1,970.1 302.2,983.3 327.4,994.3 352.5,1006.3 377.7,997.3 402.8,879.4 427.9,756.4 453.1,676.6 478.2,627.2 503.4,597.1 528.5,586.9 553.6,605.5 578.8,702.9 603.9,789.5 629.1,822.6 654.2,840.2 679.3,854.7 704.5,871.2 729.6,886.5" stroke-width="14" stroke-opacity="0.07"/><polyline points="151.4,894.9 176.5,911.2 201.7,924 226.8,938.7 252,956.1 277.1,970.1 302.2,983.3 327.4,994.3 352.5,1006.3 377.7,997.3 402.8,879.4 427.9,756.4 453.1,676.6 478.2,627.2 503.4,597.1 528.5,586.9 553.6,605.5 578.8,702.9 603.9,789.5 629.1,822.6 654.2,840.2 679.3,854.7 704.5,871.2 729.6,886.5" stroke-width="17" stroke-opacity="0.06"/><polyline points="151.4,894.9 176.5,911.2 201.7,924 226.8,938.7 252,956.1 277.1,970.1 302.2,983.3 327.4,994.3 352.5,1006.3 377.7,997.3 402.8,879.4 427.9,756.4 453.1,676.6 478.2,627.2 503.4,597.1 528.5,586.9 553.6,605.5 578.8,702.9 603.9,789.5 629.1,822.6 654.2,840.2 679.3,854.7 704.5,871.2 729.6,886.5" stroke-width="20" stroke-opacity="0.05"/></g>
<polyline points="151.4,894.9 176.5,911.2 201.7,924 226.8,938.7 252,956.1 277.1,970.1 302.2,983.3 327.4,994.3 352.5,1006.3 377.7,997.3 402.8,879.4 427.9,756.4 453.1,676.6 478.2,627.2 503.4,597.1 528.5,586.9 553.6,605.5 578.8,702.9 603.9,789.5 629.1,822.6 654.2,840.2 679.3,854.7 704.5,871.2 729.6,886.5" fill="none" stroke="#dd7b56" stroke-width="2.9" stroke-linejoin="round"/>
<path d="M151.4 894.9v5.6M151.4 894.9l-4 -2.3M151.4 894.9l4 -2.3M176.5 911.2v5.6M176.5 911.2l-4 -2.3M176.5 911.2l4 -2.3M201.7 924v5.6M201.7 924l-4 -2.3M201.7 924l4 -2.3M226.8 938.7v5.6M226.8 938.7l-4 -2.3M226.8 938.7l4 -2.3M252 956.1v5.6M252 956.1l-4 -2.3M252 956.1l4 -2.3M277.1 970.1v5.6M277.1 970.1l-4 -2.3M277.1 970.1l4 -2.3M302.2 983.3v5.6M302.2 983.3l-4 -2.3M302.2 983.3l4 -2.3M327.4 994.3v5.6M327.4 994.3l-4 -2.3M327.4 994.3l4 -2.3M352.5 1006.3v5.6M352.5 1006.3l-4 -2.3M352.5 1006.3l4 -2.3M377.7 997.3v5.6M377.7 997.3l-4 -2.3M377.7 997.3l4 -2.3M402.8 879.4v5.6M402.8 879.4l-4 -2.3M402.8 879.4l4 -2.3M427.9 756.4v5.6M427.9 756.4l-4 -2.3M427.9 756.4l4 -2.3M453.1 676.6v5.6M453.1 676.6l-4 -2.3M453.1 676.6l4 -2.3M478.2 627.2v5.6M478.2 627.2l-4 -2.3M478.2 627.2l4 -2.3M503.4 597.1v5.6M503.4 597.1l-4 -2.3M503.4 597.1l4 -2.3M528.5 586.9v5.6M528.5 586.9l-4 -2.3M528.5 586.9l4 -2.3M553.6 605.5v5.6M553.6 605.5l-4 -2.3M553.6 605.5l4 -2.3M578.8 702.9v5.6M578.8 702.9l-4 -2.3M578.8 702.9l4 -2.3M603.9 789.5v5.6M603.9 789.5l-4 -2.3M603.9 789.5l4 -2.3M629.1 822.6v5.6M629.1 822.6l-4 -2.3M629.1 822.6l4 -2.3M654.2 840.2v5.6M654.2 840.2l-4 -2.3M654.2 840.2l4 -2.3M679.3 854.7v5.6M679.3 854.7l-4 -2.3M679.3 854.7l4 -2.3M704.5 871.2v5.6M704.5 871.2l-4 -2.3M704.5 871.2l4 -2.3M729.6 886.5v5.6M729.6 886.5l-4 -2.3M729.6 886.5l4 -2.3" fill="none" stroke="#dd7b56" stroke-width="1.5"/>
<rect x="122.3" y="565.3" width="635.7" height="461.3" fill="none" stroke="#464646" stroke-width="1.9"/>
<line x1="873" y1="565.3" x2="873" y2="1026.6" stroke="#5c5c5c" stroke-width="1.9"/>
<line x1="151.4" y1="1026.6" x2="151.4" y2="1033.9" stroke="#111" stroke-width="2.8"/><text x="151.4" y="1058.2" text-anchor="middle" font-size="21.1" fill="#111" stroke="#111" stroke-width="0.45" stroke-linejoin="round">0</text><line x1="277.1" y1="1026.6" x2="277.1" y2="1033.9" stroke="#111" stroke-width="2.8"/><text x="277.1" y="1058.2" text-anchor="middle" font-size="21.1" fill="#111" stroke="#111" stroke-width="0.45" stroke-linejoin="round">5</text><line x1="402.8" y1="1026.6" x2="402.8" y2="1033.9" stroke="#111" stroke-width="2.8"/><text x="402.8" y="1058.2" text-anchor="middle" font-size="21.1" fill="#111" stroke="#111" stroke-width="0.45" stroke-linejoin="round">10</text><line x1="528.5" y1="1026.6" x2="528.5" y2="1033.9" stroke="#111" stroke-width="2.8"/><text x="528.5" y="1058.2" text-anchor="middle" font-size="21.1" fill="#111" stroke="#111" stroke-width="0.45" stroke-linejoin="round">15</text><line x1="654.2" y1="1026.6" x2="654.2" y2="1033.9" stroke="#111" stroke-width="2.8"/><text x="654.2" y="1058.2" text-anchor="middle" font-size="21.1" fill="#111" stroke="#111" stroke-width="0.45" stroke-linejoin="round">20</text>
<line x1="115" y1="605" x2="122.3" y2="605" stroke="#1028c4" stroke-width="2.8"/><text x="106.7" y="613.4" text-anchor="end" font-size="21.1" fill="#1028c4" stroke="#1028c4" stroke-width="0.45" stroke-linejoin="round">416</text><line x1="115" y1="665.9" x2="122.3" y2="665.9" stroke="#1028c4" stroke-width="2.8"/><text x="106.7" y="674.3" text-anchor="end" font-size="21.1" fill="#1028c4" stroke="#1028c4" stroke-width="0.45" stroke-linejoin="round">414</text><line x1="115" y1="726.8" x2="122.3" y2="726.8" stroke="#1028c4" stroke-width="2.8"/><text x="106.7" y="735.2" text-anchor="end" font-size="21.1" fill="#1028c4" stroke="#1028c4" stroke-width="0.45" stroke-linejoin="round">412</text><line x1="115" y1="787.7" x2="122.3" y2="787.7" stroke="#1028c4" stroke-width="2.8"/><text x="106.7" y="796.1" text-anchor="end" font-size="21.1" fill="#1028c4" stroke="#1028c4" stroke-width="0.45" stroke-linejoin="round">410</text><line x1="115" y1="848.6" x2="122.3" y2="848.6" stroke="#1028c4" stroke-width="2.8"/><text x="106.7" y="857" text-anchor="end" font-size="21.1" fill="#1028c4" stroke="#1028c4" stroke-width="0.45" stroke-linejoin="round">408</text><line x1="115" y1="909.5" x2="122.3" y2="909.5" stroke="#1028c4" stroke-width="2.8"/><text x="106.7" y="917.9" text-anchor="end" font-size="21.1" fill="#1028c4" stroke="#1028c4" stroke-width="0.45" stroke-linejoin="round">406</text><line x1="115" y1="970.4" x2="122.3" y2="970.4" stroke="#1028c4" stroke-width="2.8"/><text x="106.7" y="978.8" text-anchor="end" font-size="21.1" fill="#1028c4" stroke="#1028c4" stroke-width="0.45" stroke-linejoin="round">404</text>
<line x1="758" y1="579.3" x2="765.3" y2="579.3" stroke="#1f2f1f" stroke-width="2.8"/><text x="772.6" y="587.7" text-anchor="start" font-size="21.1" fill="#1c561c" stroke="#1c561c" stroke-width="0.45" stroke-linejoin="round">2.10</text><line x1="758" y1="630.9" x2="765.3" y2="630.9" stroke="#1f2f1f" stroke-width="2.8"/><text x="772.6" y="639.3" text-anchor="start" font-size="21.1" fill="#1c561c" stroke="#1c561c" stroke-width="0.45" stroke-linejoin="round">2.08</text><line x1="758" y1="682.5" x2="765.3" y2="682.5" stroke="#1f2f1f" stroke-width="2.8"/><text x="772.6" y="690.9" text-anchor="start" font-size="21.1" fill="#1c561c" stroke="#1c561c" stroke-width="0.45" stroke-linejoin="round">2.06</text><line x1="758" y1="734.1" x2="765.3" y2="734.1" stroke="#1f2f1f" stroke-width="2.8"/><text x="772.6" y="742.5" text-anchor="start" font-size="21.1" fill="#1c561c" stroke="#1c561c" stroke-width="0.45" stroke-linejoin="round">2.04</text><line x1="758" y1="785.7" x2="765.3" y2="785.7" stroke="#1f2f1f" stroke-width="2.8"/><text x="772.6" y="794.1" text-anchor="start" font-size="21.1" fill="#1c561c" stroke="#1c561c" stroke-width="0.45" stroke-linejoin="round">2.02</text><line x1="758" y1="837.3" x2="765.3" y2="837.3" stroke="#1f2f1f" stroke-width="2.8"/><text x="772.6" y="845.7" text-anchor="start" font-size="21.1" fill="#1c561c" stroke="#1c561c" stroke-width="0.45" stroke-linejoin="round">2.00</text><line x1="758" y1="888.9" x2="765.3" y2="888.9" stroke="#1f2f1f" stroke-width="2.8"/><text x="772.6" y="897.3" text-anchor="start" font-size="21.1" fill="#1c561c" stroke="#1c561c" stroke-width="0.45" stroke-linejoin="round">1.98</text><line x1="758" y1="940.5" x2="765.3" y2="940.5" stroke="#1f2f1f" stroke-width="2.8"/><text x="772.6" y="948.9" text-anchor="start" font-size="21.1" fill="#1c561c" stroke="#1c561c" stroke-width="0.45" stroke-linejoin="round">1.96</text><line x1="758" y1="992.1" x2="765.3" y2="992.1" stroke="#1f2f1f" stroke-width="2.8"/><text x="772.6" y="1000.5" text-anchor="start" font-size="21.1" fill="#1c561c" stroke="#1c561c" stroke-width="0.45" stroke-linejoin="round">1.94</text>
<line x1="873" y1="574.7" x2="880.3" y2="574.7" stroke="#be8672" stroke-width="2.8"/><text x="887.6" y="583.1" text-anchor="start" font-size="21.1" fill="#be8672" stroke="#be8672" stroke-width="0.45" stroke-linejoin="round">2250</text><line x1="873" y1="637.8" x2="880.3" y2="637.8" stroke="#be8672" stroke-width="2.8"/><text x="887.6" y="646.2" text-anchor="start" font-size="21.1" fill="#be8672" stroke="#be8672" stroke-width="0.45" stroke-linejoin="round">2000</text><line x1="873" y1="700.9" x2="880.3" y2="700.9" stroke="#be8672" stroke-width="2.8"/><text x="887.6" y="709.3" text-anchor="start" font-size="21.1" fill="#be8672" stroke="#be8672" stroke-width="0.45" stroke-linejoin="round">1750</text><line x1="873" y1="764" x2="880.3" y2="764" stroke="#be8672" stroke-width="2.8"/><text x="887.6" y="772.4" text-anchor="start" font-size="21.1" fill="#be8672" stroke="#be8672" stroke-width="0.45" stroke-linejoin="round">1500</text><line x1="873" y1="827.1" x2="880.3" y2="827.1" stroke="#be8672" stroke-width="2.8"/><text x="887.6" y="835.5" text-anchor="start" font-size="21.1" fill="#be8672" stroke="#be8672" stroke-width="0.45" stroke-linejoin="round">1250</text><line x1="873" y1="890.2" x2="880.3" y2="890.2" stroke="#be8672" stroke-width="2.8"/><text x="887.6" y="898.6" text-anchor="start" font-size="21.1" fill="#be8672" stroke="#be8672" stroke-width="0.45" stroke-linejoin="round">1000</text><line x1="873" y1="953.3" x2="880.3" y2="953.3" stroke="#be8672" stroke-width="2.8"/><text x="887.6" y="961.7" text-anchor="start" font-size="21.1" fill="#be8672" stroke="#be8672" stroke-width="0.45" stroke-linejoin="round">750</text><line x1="873" y1="1016.4" x2="880.3" y2="1016.4" stroke="#be8672" stroke-width="2.8"/><text x="887.6" y="1024.8" text-anchor="start" font-size="21.1" fill="#be8672" stroke="#be8672" stroke-width="0.45" stroke-linejoin="round">500</text>
<text transform="translate(50.5,795.4) rotate(-90)" text-anchor="middle" font-size="29.4" fill="#1028c4" stroke="#1028c4" stroke-width="0.45" stroke-linejoin="round">CO<tspan font-size="20.6" dy="4.6">2</tspan><tspan dy="-4.6"> (ppm)</tspan></text>
<text transform="translate(850.8,795.4) rotate(-90)" text-anchor="middle" font-size="29.4" fill="#1c561c" stroke="#1c561c" stroke-width="0.45" stroke-linejoin="round">CH<tspan font-size="20.6" dy="4.6">4</tspan><tspan dy="-4.6"> (ppm)</tspan></text>
<text transform="translate(971,795.9) rotate(-90)" text-anchor="middle" font-size="29.4" fill="#cf7a5e" stroke="#cf7a5e" stroke-width="0.45" stroke-linejoin="round">PBL (m)</text>
<rect x="168.5" y="603.3" width="34.7" height="47.1" fill="#f0e68c" fill-opacity="0.5" stroke="#333" stroke-opacity="0.75" stroke-width="1.6"/>
<text x="185.8" y="635.9" text-anchor="middle" font-size="31.6" fill="#000" stroke="#000" stroke-width="0.45" stroke-linejoin="round">c</text>
</g>
<g id="panel-d">
<clipPath id="clip_d"><rect x="1121.8" y="565.3" width="635.4" height="461.3"/></clipPath>
<g clip-path="url(#clip_d)">
<polygon points="1150,702.9 1175.1,695.2 1200.3,697.8 1225.4,701.6 1250.6,708 1275.7,715.6 1300.8,722 1326,726.3 1351.1,713.1 1376.3,688.9 1401.4,676.6 1426.5,672.8 1451.7,652.7 1476.8,661.6 1502,662.1 1527.1,648.1 1552.2,628.2 1577.4,635.4 1602.5,609.9 1627.7,586.2 1652.8,603.5 1677.9,646.8 1703.1,676.6 1728.2,687.6 1728.2,915.8 1703.1,942.6 1677.9,946.4 1652.8,940 1627.7,937.5 1602.5,971.9 1577.4,989.7 1552.2,998.6 1527.1,1006.3 1502,1003.7 1476.8,984.6 1451.7,961.7 1426.5,943.8 1401.4,936.7 1376.3,951.5 1351.1,963 1326,955.3 1300.8,946.4 1275.7,959.9 1250.6,952.8 1225.4,960.4 1200.3,949 1175.1,949 1150,942.6" fill="#0000cd" fill-opacity="0.128" stroke="#333366" stroke-opacity="0.2" stroke-width="1.5"/>
<polygon points="1150,747.5 1175.1,748.2 1200.3,756.4 1225.4,767.8 1250.6,792 1275.7,802.2 1300.8,798.4 1326,807.3 1351.1,797.1 1376.3,776.8 1401.4,705.4 1426.5,621.8 1451.7,676 1476.8,769.1 1502,798.4 1527.1,816.2 1552.2,803.5 1577.4,804.3 1602.5,695.2 1627.7,587 1652.8,604.8 1677.9,681.2 1703.1,715.1 1728.2,708.5 1728.2,957.9 1703.1,977 1677.9,977.5 1652.8,968 1627.7,994.8 1602.5,1005.8 1577.4,990.2 1552.2,987.7 1527.1,985.9 1502,969.3 1476.8,974.4 1451.7,1001.4 1426.5,1000.4 1401.4,977 1376.3,966.3 1351.1,992.8 1326,985.9 1300.8,981.5 1275.7,982.6 1250.6,985.1 1225.4,1000.4 1200.3,984.6 1175.1,978.2 1150,970.6" fill="#006400" fill-opacity="0.128" stroke="#335533" stroke-opacity="0.2" stroke-width="1.5"/>
<polygon points="1150,980.8 1175.1,985.1 1200.3,986.4 1225.4,990.2 1250.6,996.1 1275.7,995.3 1300.8,995.3 1326,1006.3 1351.1,1003.7 1376.3,920.9 1401.4,815 1426.5,729.6 1451.7,668.5 1476.8,624.4 1502,595.9 1527.1,586.9 1552.2,599.7 1577.4,644.3 1602.5,738.5 1627.7,844.5 1652.8,912 1677.9,943.8 1703.1,964.7 1728.2,973.9 1728.2,1031.6 1150,1031.6" fill="#dd7b56" fill-opacity="0.135" stroke="#884422" stroke-opacity="0.06" stroke-width="1.4"/>
</g>
<polyline points="1150,822.7 1175.1,822.7 1200.3,823.2 1225.4,831 1250.6,830.5 1275.7,837.6 1300.8,834.8 1326,840.7 1351.1,838.6 1376.3,820.4 1401.4,807.3 1426.5,808 1451.7,807.3 1476.8,822.1 1502,832.2 1527.1,826.6 1552.2,812.9 1577.4,812.9 1602.5,789.5 1627.7,761 1652.8,770.4 1677.9,796.6 1703.1,809.4 1728.2,801.2" fill="none" stroke="#0a3cc8" stroke-width="1.9" stroke-linejoin="round"/>
<g fill="#0320cc"><circle cx="1150" cy="822.7" r="6.3"/><circle cx="1175.1" cy="822.7" r="6.3"/><circle cx="1200.3" cy="823.2" r="6.3"/><circle cx="1225.4" cy="831" r="6.3"/><circle cx="1250.6" cy="830.5" r="6.3"/><circle cx="1275.7" cy="837.6" r="6.3"/><circle cx="1300.8" cy="834.8" r="6.3"/><circle cx="1326" cy="840.7" r="6.3"/><circle cx="1351.1" cy="838.6" r="6.3"/><circle cx="1376.3" cy="820.4" r="6.3"/><circle cx="1401.4" cy="807.3" r="6.3"/><circle cx="1426.5" cy="808" r="6.3"/><circle cx="1451.7" cy="807.3" r="6.3"/><circle cx="1476.8" cy="822.1" r="6.3"/><circle cx="1502" cy="832.2" r="6.3"/><circle cx="1527.1" cy="826.6" r="6.3"/><circle cx="1552.2" cy="812.9" r="6.3"/><circle cx="1577.4" cy="812.9" r="6.3"/><circle cx="1602.5" cy="789.5" r="6.3"/><circle cx="1627.7" cy="761" r="6.3"/><circle cx="1652.8" cy="770.4" r="6.3"/><circle cx="1677.9" cy="796.6" r="6.3"/><circle cx="1703.1" cy="809.4" r="6.3"/><circle cx="1728.2" cy="801.2" r="6.3"/></g>
<polyline points="1150,859.8 1175.1,863.6 1200.3,870 1225.4,885.8 1250.6,889.8 1275.7,892.9 1300.8,890.3 1326,896.2 1351.1,894.7 1376.3,872.5 1401.4,844 1426.5,810.4 1451.7,838.1 1476.8,871.2 1502,885.2 1527.1,900.5 1552.2,894.9 1577.4,896.7 1602.5,845.2 1627.7,789.5 1652.8,787 1677.9,829.2 1703.1,845.8 1728.2,833" fill="none" stroke="#4a614a" stroke-width="1.9" stroke-dasharray="7.7 3.3"/>
<g fill="#1c7614"><circle cx="1150" cy="859.8" r="6.3"/><circle cx="1175.1" cy="863.6" r="6.3"/><circle cx="1200.3" cy="870" r="6.3"/><circle cx="1225.4" cy="885.8" r="6.3"/><circle cx="1250.6" cy="889.8" r="6.3"/><circle cx="1275.7" cy="892.9" r="6.3"/><circle cx="1300.8" cy="890.3" r="6.3"/><circle cx="1326" cy="896.2" r="6.3"/><circle cx="1351.1" cy="894.7" r="6.3"/><circle cx="1376.3" cy="872.5" r="6.3"/><circle cx="1401.4" cy="844" r="6.3"/><circle cx="1426.5" cy="810.4" r="6.3"/><circle cx="1451.7" cy="838.1" r="6.3"/><circle cx="1476.8" cy="871.2" r="6.3"/><circle cx="1502" cy="885.2" r="6.3"/><circle cx="1527.1" cy="900.5" r="6.3"/><circle cx="1552.2" cy="894.9" r="6.3"/><circle cx="1577.4" cy="896.7" r="6.3"/><circle cx="1602.5" cy="845.2" r="6.3"/><circle cx="1627.7" cy="789.5" r="6.3"/><circle cx="1652.8" cy="787" r="6.3"/><circle cx="1677.9" cy="829.2" r="6.3"/><circle cx="1703.1" cy="845.8" r="6.3"/><circle cx="1728.2" cy="833" r="6.3"/></g>
<g fill="none" stroke="#f4683c" stroke-linejoin="round" stroke-linecap="round" filter="url(#glow)"><polyline points="1150,980.8 1175.1,985.1 1200.3,986.4 1225.4,990.2 1250.6,996.1 1275.7,995.3 1300.8,995.3 1326,1006.3 1351.1,1003.7 1376.3,920.9 1401.4,815 1426.5,729.6 1451.7,668.5 1476.8,624.4 1502,595.9 1527.1,586.9 1552.2,599.7 1577.4,644.3 1602.5,738.5 1627.7,844.5 1652.8,912 1677.9,943.8 1703.1,964.7 1728.2,973.9" stroke-width="5" stroke-opacity="0.1"/><polyline points="1150,980.8 1175.1,985.1 1200.3,986.4 1225.4,990.2 1250.6,996.1 1275.7,995.3 1300.8,995.3 1326,1006.3 1351.1,1003.7 1376.3,920.9 1401.4,815 1426.5,729.6 1451.7,668.5 1476.8,624.4 1502,595.9 1527.1,586.9 1552.2,599.7 1577.4,644.3 1602.5,738.5 1627.7,844.5 1652.8,912 1677.9,943.8 1703.1,964.7 1728.2,973.9" stroke-width="8" stroke-opacity="0.09"/><polyline points="1150,980.8 1175.1,985.1 1200.3,986.4 1225.4,990.2 1250.6,996.1 1275.7,995.3 1300.8,995.3 1326,1006.3 1351.1,1003.7 1376.3,920.9 1401.4,815 1426.5,729.6 1451.7,668.5 1476.8,624.4 1502,595.9 1527.1,586.9 1552.2,599.7 1577.4,644.3 1602.5,738.5 1627.7,844.5 1652.8,912 1677.9,943.8 1703.1,964.7 1728.2,973.9" stroke-width="11" stroke-opacity="0.08"/><polyline points="1150,980.8 1175.1,985.1 1200.3,986.4 1225.4,990.2 1250.6,996.1 1275.7,995.3 1300.8,995.3 1326,1006.3 1351.1,1003.7 1376.3,920.9 1401.4,815 1426.5,729.6 1451.7,668.5 1476.8,624.4 1502,595.9 1527.1,586.9 1552.2,599.7 1577.4,644.3 1602.5,738.5 1627.7,844.5 1652.8,912 1677.9,943.8 1703.1,964.7 1728.2,973.9" stroke-width="14" stroke-opacity="0.07"/><polyline points="1150,980.8 1175.1,985.1 1200.3,986.4 1225.4,990.2 1250.6,996.1 1275.7,995.3 1300.8,995.3 1326,1006.3 1351.1,1003.7 1376.3,920.9 1401.4,815 1426.5,729.6 1451.7,668.5 1476.8,624.4 1502,595.9 1527.1,586.9 1552.2,599.7 1577.4,644.3 1602.5,738.5 1627.7,844.5 1652.8,912 1677.9,943.8 1703.1,964.7 1728.2,973.9" stroke-width="17" stroke-opacity="0.06"/><polyline points="1150,980.8 1175.1,985.1 1200.3,986.4 1225.4,990.2 1250.6,996.1 1275.7,995.3 1300.8,995.3 1326,1006.3 1351.1,1003.7 1376.3,920.9 1401.4,815 1426.5,729.6 1451.7,668.5 1476.8,624.4 1502,595.9 1527.1,586.9 1552.2,599.7 1577.4,644.3 1602.5,738.5 1627.7,844.5 1652.8,912 1677.9,943.8 1703.1,964.7 1728.2,973.9" stroke-width="20" stroke-opacity="0.05"/></g>
<polyline points="1150,980.8 1175.1,985.1 1200.3,986.4 1225.4,990.2 1250.6,996.1 1275.7,995.3 1300.8,995.3 1326,1006.3 1351.1,1003.7 1376.3,920.9 1401.4,815 1426.5,729.6 1451.7,668.5 1476.8,624.4 1502,595.9 1527.1,586.9 1552.2,599.7 1577.4,644.3 1602.5,738.5 1627.7,844.5 1652.8,912 1677.9,943.8 1703.1,964.7 1728.2,973.9" fill="none" stroke="#dd7b56" stroke-width="2.9" stroke-linejoin="round"/>
<path d="M1150 980.8v5.6M1150 980.8l-4 -2.3M1150 980.8l4 -2.3M1175.1 985.1v5.6M1175.1 985.1l-4 -2.3M1175.1 985.1l4 -2.3M1200.3 986.4v5.6M1200.3 986.4l-4 -2.3M1200.3 986.4l4 -2.3M1225.4 990.2v5.6M1225.4 990.2l-4 -2.3M1225.4 990.2l4 -2.3M1250.6 996.1v5.6M1250.6 996.1l-4 -2.3M1250.6 996.1l4 -2.3M1275.7 995.3v5.6M1275.7 995.3l-4 -2.3M1275.7 995.3l4 -2.3M1300.8 995.3v5.6M1300.8 995.3l-4 -2.3M1300.8 995.3l4 -2.3M1326 1006.3v5.6M1326 1006.3l-4 -2.3M1326 1006.3l4 -2.3M1351.1 1003.7v5.6M1351.1 1003.7l-4 -2.3M1351.1 1003.7l4 -2.3M1376.3 920.9v5.6M1376.3 920.9l-4 -2.3M1376.3 920.9l4 -2.3M1401.4 815v5.6M1401.4 815l-4 -2.3M1401.4 815l4 -2.3M1426.5 729.6v5.6M1426.5 729.6l-4 -2.3M1426.5 729.6l4 -2.3M1451.7 668.5v5.6M1451.7 668.5l-4 -2.3M1451.7 668.5l4 -2.3M1476.8 624.4v5.6M1476.8 624.4l-4 -2.3M1476.8 624.4l4 -2.3M1502 595.9v5.6M1502 595.9l-4 -2.3M1502 595.9l4 -2.3M1527.1 586.9v5.6M1527.1 586.9l-4 -2.3M1527.1 586.9l4 -2.3M1552.2 599.7v5.6M1552.2 599.7l-4 -2.3M1552.2 599.7l4 -2.3M1577.4 644.3v5.6M1577.4 644.3l-4 -2.3M1577.4 644.3l4 -2.3M1602.5 738.5v5.6M1602.5 738.5l-4 -2.3M1602.5 738.5l4 -2.3M1627.7 844.5v5.6M1627.7 844.5l-4 -2.3M1627.7 844.5l4 -2.3M1652.8 912v5.6M1652.8 912l-4 -2.3M1652.8 912l4 -2.3M1677.9 943.8v5.6M1677.9 943.8l-4 -2.3M1677.9 943.8l4 -2.3M1703.1 964.7v5.6M1703.1 964.7l-4 -2.3M1703.1 964.7l4 -2.3M1728.2 973.9v5.6M1728.2 973.9l-4 -2.3M1728.2 973.9l4 -2.3" fill="none" stroke="#dd7b56" stroke-width="1.5"/>
<rect x="1121.8" y="565.3" width="635.4" height="461.3" fill="none" stroke="#464646" stroke-width="1.9"/>
<line x1="1872" y1="565.3" x2="1872" y2="1026.6" stroke="#5c5c5c" stroke-width="1.9"/>
<line x1="1150" y1="1026.6" x2="1150" y2="1033.9" stroke="#111" stroke-width="2.8"/><text x="1150" y="1058.2" text-anchor="middle" font-size="21.1" fill="#111" stroke="#111" stroke-width="0.45" stroke-linejoin="round">0</text><line x1="1275.7" y1="1026.6" x2="1275.7" y2="1033.9" stroke="#111" stroke-width="2.8"/><text x="1275.7" y="1058.2" text-anchor="middle" font-size="21.1" fill="#111" stroke="#111" stroke-width="0.45" stroke-linejoin="round">5</text><line x1="1401.4" y1="1026.6" x2="1401.4" y2="1033.9" stroke="#111" stroke-width="2.8"/><text x="1401.4" y="1058.2" text-anchor="middle" font-size="21.1" fill="#111" stroke="#111" stroke-width="0.45" stroke-linejoin="round">10</text><line x1="1527.1" y1="1026.6" x2="1527.1" y2="1033.9" stroke="#111" stroke-width="2.8"/><text x="1527.1" y="1058.2" text-anchor="middle" font-size="21.1" fill="#111" stroke="#111" stroke-width="0.45" stroke-linejoin="round">15</text><line x1="1652.8" y1="1026.6" x2="1652.8" y2="1033.9" stroke="#111" stroke-width="2.8"/><text x="1652.8" y="1058.2" text-anchor="middle" font-size="21.1" fill="#111" stroke="#111" stroke-width="0.45" stroke-linejoin="round">20</text>
<line x1="1114.5" y1="617.5" x2="1121.8" y2="617.5" stroke="#1028c4" stroke-width="2.8"/><text x="1106.2" y="625.9" text-anchor="end" font-size="21.1" fill="#1028c4" stroke="#1028c4" stroke-width="0.45" stroke-linejoin="round">424</text><line x1="1114.5" y1="674.5" x2="1121.8" y2="674.5" stroke="#1028c4" stroke-width="2.8"/><text x="1106.2" y="682.9" text-anchor="end" font-size="21.1" fill="#1028c4" stroke="#1028c4" stroke-width="0.45" stroke-linejoin="round">422</text><line x1="1114.5" y1="731.5" x2="1121.8" y2="731.5" stroke="#1028c4" stroke-width="2.8"/><text x="1106.2" y="739.9" text-anchor="end" font-size="21.1" fill="#1028c4" stroke="#1028c4" stroke-width="0.45" stroke-linejoin="round">420</text><line x1="1114.5" y1="788.5" x2="1121.8" y2="788.5" stroke="#1028c4" stroke-width="2.8"/><text x="1106.2" y="796.9" text-anchor="end" font-size="21.1" fill="#1028c4" stroke="#1028c4" stroke-width="0.45" stroke-linejoin="round">418</text><line x1="1114.5" y1="845.5" x2="1121.8" y2="845.5" stroke="#1028c4" stroke-width="2.8"/><text x="1106.2" y="853.9" text-anchor="end" font-size="21.1" fill="#1028c4" stroke="#1028c4" stroke-width="0.45" stroke-linejoin="round">416</text><line x1="1114.5" y1="902.5" x2="1121.8" y2="902.5" stroke="#1028c4" stroke-width="2.8"/><text x="1106.2" y="910.9" text-anchor="end" font-size="21.1" fill="#1028c4" stroke="#1028c4" stroke-width="0.45" stroke-linejoin="round">414</text><line x1="1114.5" y1="959.5" x2="1121.8" y2="959.5" stroke="#1028c4" stroke-width="2.8"/><text x="1106.2" y="967.9" text-anchor="end" font-size="21.1" fill="#1028c4" stroke="#1028c4" stroke-width="0.45" stroke-linejoin="round">412</text><line x1="1114.5" y1="1016.5" x2="1121.8" y2="1016.5" stroke="#1028c4" stroke-width="2.8"/><text x="1106.2" y="1024.9" text-anchor="end" font-size="21.1" fill="#1028c4" stroke="#1028c4" stroke-width="0.45" stroke-linejoin="round">410</text>
<line x1="1757.2" y1="601" x2="1764.5" y2="601" stroke="#1f2f1f" stroke-width="2.8"/><text x="1771.8" y="609.4" text-anchor="start" font-size="21.1" fill="#1c561c" stroke="#1c561c" stroke-width="0.45" stroke-linejoin="round">2.06</text><line x1="1757.2" y1="656.6" x2="1764.5" y2="656.6" stroke="#1f2f1f" stroke-width="2.8"/><text x="1771.8" y="665" text-anchor="start" font-size="21.1" fill="#1c561c" stroke="#1c561c" stroke-width="0.45" stroke-linejoin="round">2.04</text><line x1="1757.2" y1="712.2" x2="1764.5" y2="712.2" stroke="#1f2f1f" stroke-width="2.8"/><text x="1771.8" y="720.6" text-anchor="start" font-size="21.1" fill="#1c561c" stroke="#1c561c" stroke-width="0.45" stroke-linejoin="round">2.02</text><line x1="1757.2" y1="767.8" x2="1764.5" y2="767.8" stroke="#1f2f1f" stroke-width="2.8"/><text x="1771.8" y="776.2" text-anchor="start" font-size="21.1" fill="#1c561c" stroke="#1c561c" stroke-width="0.45" stroke-linejoin="round">2.00</text><line x1="1757.2" y1="823.4" x2="1764.5" y2="823.4" stroke="#1f2f1f" stroke-width="2.8"/><text x="1771.8" y="831.8" text-anchor="start" font-size="21.1" fill="#1c561c" stroke="#1c561c" stroke-width="0.45" stroke-linejoin="round">1.98</text><line x1="1757.2" y1="879" x2="1764.5" y2="879" stroke="#1f2f1f" stroke-width="2.8"/><text x="1771.8" y="887.4" text-anchor="start" font-size="21.1" fill="#1c561c" stroke="#1c561c" stroke-width="0.45" stroke-linejoin="round">1.96</text><line x1="1757.2" y1="934.6" x2="1764.5" y2="934.6" stroke="#1f2f1f" stroke-width="2.8"/><text x="1771.8" y="943" text-anchor="start" font-size="21.1" fill="#1c561c" stroke="#1c561c" stroke-width="0.45" stroke-linejoin="round">1.94</text><line x1="1757.2" y1="990.2" x2="1764.5" y2="990.2" stroke="#1f2f1f" stroke-width="2.8"/><text x="1771.8" y="998.6" text-anchor="start" font-size="21.1" fill="#1c561c" stroke="#1c561c" stroke-width="0.45" stroke-linejoin="round">1.92</text>
<line x1="1872" y1="645" x2="1879.3" y2="645" stroke="#be8672" stroke-width="2.8"/><text x="1886.6" y="653.4" text-anchor="start" font-size="21.1" fill="#be8672" stroke="#be8672" stroke-width="0.45" stroke-linejoin="round">2500</text><line x1="1872" y1="741.8" x2="1879.3" y2="741.8" stroke="#be8672" stroke-width="2.8"/><text x="1886.6" y="750.2" text-anchor="start" font-size="21.1" fill="#be8672" stroke="#be8672" stroke-width="0.45" stroke-linejoin="round">2000</text><line x1="1872" y1="838.6" x2="1879.3" y2="838.6" stroke="#be8672" stroke-width="2.8"/><text x="1886.6" y="847" text-anchor="start" font-size="21.1" fill="#be8672" stroke="#be8672" stroke-width="0.45" stroke-linejoin="round">1500</text><line x1="1872" y1="935.4" x2="1879.3" y2="935.4" stroke="#be8672" stroke-width="2.8"/><text x="1886.6" y="943.8" text-anchor="start" font-size="21.1" fill="#be8672" stroke="#be8672" stroke-width="0.45" stroke-linejoin="round">1000</text>
<text transform="translate(1050.3,795.4) rotate(-90)" text-anchor="middle" font-size="29.4" fill="#1028c4" stroke="#1028c4" stroke-width="0.45" stroke-linejoin="round">CO<tspan font-size="20.6" dy="4.6">2</tspan><tspan dy="-4.6"> (ppm)</tspan></text>
<text transform="translate(1850.4,795.4) rotate(-90)" text-anchor="middle" font-size="29.4" fill="#1c561c" stroke="#1c561c" stroke-width="0.45" stroke-linejoin="round">CH<tspan font-size="20.6" dy="4.6">4</tspan><tspan dy="-4.6"> (ppm)</tspan></text>
<text transform="translate(1975.6,795.9) rotate(-90)" text-anchor="middle" font-size="29.4" fill="#ff7f50" stroke="#ff7f50" stroke-width="0.45" stroke-linejoin="round">PBL (m)</text>
<rect x="1167.3" y="598" width="37.3" height="48" fill="#f0e68c" fill-opacity="0.5" stroke="#333" stroke-opacity="0.75" stroke-width="1.6"/>
<text x="1185.9" y="631.5" text-anchor="middle" font-size="31.6" fill="#000" stroke="#000" stroke-width="0.45" stroke-linejoin="round">d</text>
<text x="1439.5" y="1093.8" text-anchor="middle" font-size="31.6" fill="#000" stroke="#000" stroke-width="0.45" stroke-linejoin="round">Hour</text>
</g>
<line x1="0" y1="756.4" x2="1982" y2="756.4" stroke="#fff" stroke-opacity="0.45" stroke-width="1.2"/>
</g>
</svg></body></html>
